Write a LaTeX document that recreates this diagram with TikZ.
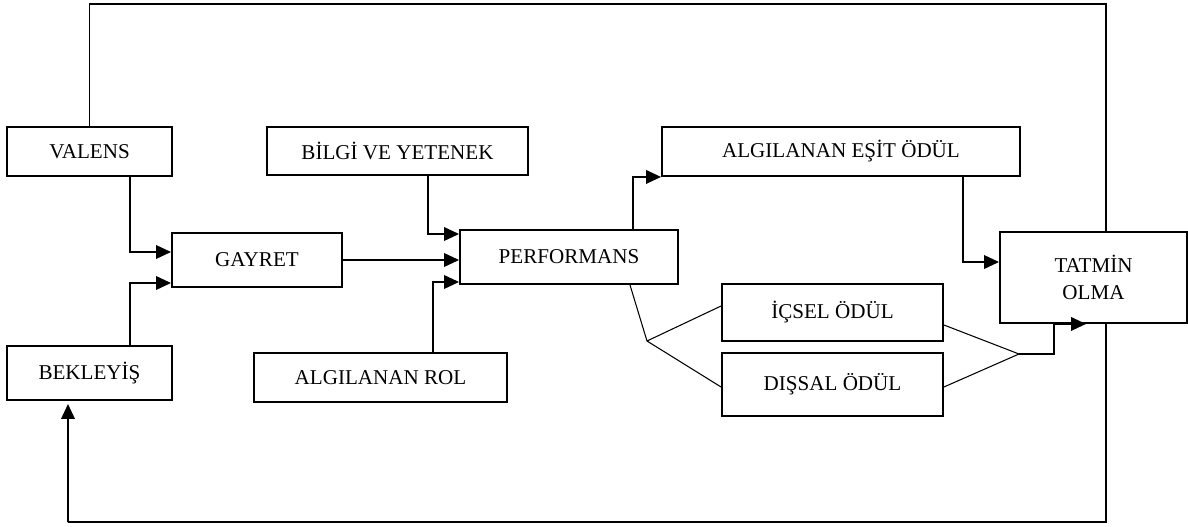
\documentclass[tikz,border=0pt]{standalone}
\usepackage{fontspec}
\setmainfont{Liberation Serif}
\usepackage{tikz}
\usetikzlibrary{arrows.meta,positioning,calc,backgrounds}
\tikzset{box/.style={
    draw, fill=white,
    line width=1.1pt,
    minimum width=#1,
    align=center,
    inner sep=0pt,
    font=\fontsize{12}{15.5}\selectfont
  },
  box/.default=3cm,
  link/.style={line width=1.1pt, -{Triangle[length=0.3cm,width=0.27cm]}},
  thin link/.style={line width=0.6pt}
}

\begin{document}
\begin{tikzpicture}[x=0.02cm,y=-0.02cm]
    \useasboundingbox (0,0) rectangle (1188,527);

    \node[box=3.3cm, minimum height=0.98cm] (valens) at (89.5,151.5) {VALENS};
    \node[box=3.3cm, minimum height=1.08cm] (bekleyis) at (89.5,373) {BEKLEYİŞ};
    \node[box=3.4cm, minimum height=1.08cm] (gayret) at (257,260) {GAYRET};
    \node[box=5.22cm, minimum height=0.96cm] (bilgi) at (397.5,151) {BİLGİ VE YETENEK};
    \node[box=5.06cm, minimum height=0.98cm] (rol) at (380.5,377.5) {ALGILANAN ROL};
    \node[box=4.36cm, minimum height=1.08cm] (perf) at (569,257) {PERFORMANS};
    \node[box=7.16cm, minimum height=0.98cm] (esit) at (841,151.5) {ALGILANAN EŞİT ÖDÜL};
    \node[box=3.74cm, minimum height=1.82cm] (tatmin) at (1093.5,277.5) {TATMİN\\OLMA};
    \node[box=4.42cm, minimum height=1.14cm] (icsel) at (832.5,312.5) {İÇSEL ÖDÜL};
    \node[box=4.42cm, minimum height=1.26cm] (dissal) at (832.5,384.5) {DIŞSAL ÖDÜL};

    % frame of the feedback loop
    \coordinate (tr) at (1106,4);
    \coordinate (br) at (1106,522);
    \coordinate (bl) at (68,522);
    \begin{scope}[on background layer]
    \draw[thin link] (valens.north) |- (tr) -- (br) -- (bl);
    \end{scope}
    \draw[link] (bl) -- ([xshift=-0.43cm,yshift=-0.06cm]bekleyis.south);

    \draw[link] ([xshift=0.81cm]valens.south) |- ([yshift=0.16cm]gayret.west);
    \draw[link] ([xshift=0.81cm]bekleyis.north) |- ([yshift=-0.46cm]gayret.west);
    \draw[link] (gayret.east) -- (gayret.east -| perf.west);
    \draw[link] ([xshift=0.61cm]bilgi.south) |- ([yshift=0.46cm]perf.west);
    \draw[link] ([xshift=1.05cm]rol.north) |- ([yshift=-0.5cm]perf.west);
    \draw[link] ([xshift=1.28cm]perf.north) |- (esit.south west);
    \draw[link] ([xshift=2.44cm]esit.south) |- ([yshift=0.31cm]tatmin.west);

    % rewards
    \coordinate (jl) at (647,341);
    \coordinate (jr) at (1019,354);
    \draw[thin link] ([xshift=1.22cm]perf.south) -- (jl);
    \draw[thin link] (jl) -- ([yshift=0.13cm]icsel.west);
    \draw[thin link] (jl) -- ([yshift=-0.05cm]dissal.west);
    \draw[thin link] ([yshift=-0.25cm]icsel.east) -- (jr);
    \draw[thin link] ([yshift=-0.05cm]dissal.east) -- (jr);
    \draw[link] (jr) -| ([xshift=1.1cm]tatmin.south west) -- ([xshift=1.74cm]tatmin.south west);
\end{tikzpicture}
\end{document}
